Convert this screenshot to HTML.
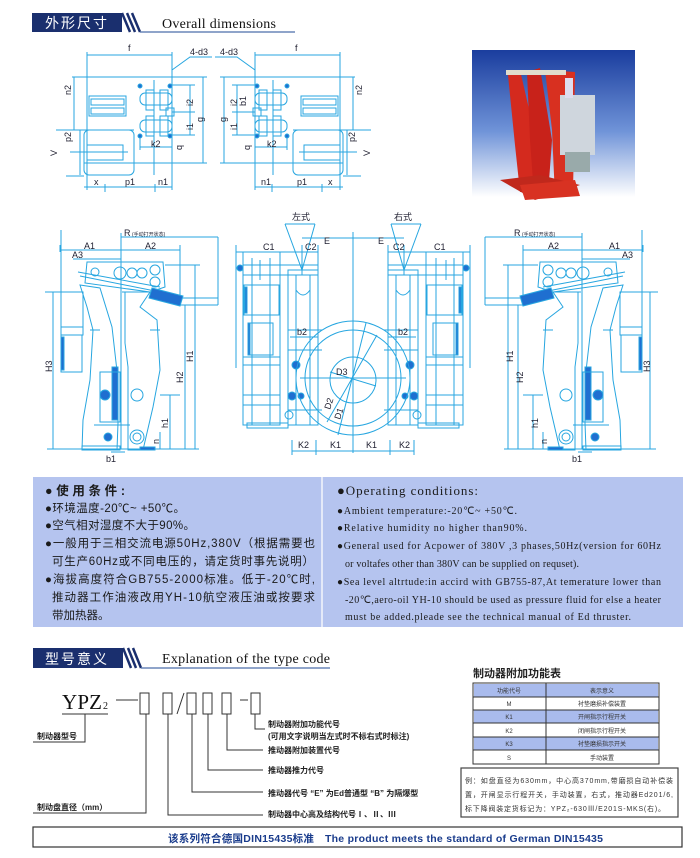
<!DOCTYPE html>
<html><head><meta charset="utf-8"><style>
html,body{margin:0;padding:0;background:#fff;}
svg{display:block}
.c{stroke:#27a6e0;fill:none;stroke-width:1}
.f{fill:#1f6fd0;stroke:#27a6e0}
.l{font-family:"Liberation Sans",sans-serif;font-size:9px;fill:#223}
.cn{font-family:"Liberation Sans","Noto Sans CJK SC",sans-serif}
.se{font-family:"Liberation Serif",serif}
</style></head><body>
<svg width="700" height="858" viewBox="0 0 700 858" xmlns="http://www.w3.org/2000/svg">
<defs>
<linearGradient id="bg" x1="0" y1="0" x2="0" y2="1"><stop offset="0" stop-color="#1a3d9e"/><stop offset="0.55" stop-color="#6f93d8"/><stop offset="1" stop-color="#fff"/></linearGradient>
<g id="plan">
 <path class="c" d="M87 52V190M172 52V190M87 55H172M72 77H207M84 163H207M203 77V163M56 130H134M80 130V175M74 77V130M84 187H172M105 184V192M155 184V192M66 176H84"/>
 <rect class="c" x="89" y="96" width="37" height="20"/><rect class="c" x="91" y="99" width="33" height="6"/><rect class="c" x="91" y="108" width="33" height="6"/>
 <rect class="c" x="84" y="130" width="50" height="45" rx="5"/><rect class="c" x="87" y="145" width="36" height="15"/><path class="c" d="M70 152H128"/>
 <rect class="c" x="140" y="93" width="32" height="12" rx="5"/><rect class="c" x="140" y="120" width="32" height="12" rx="5"/>
 <rect class="c" x="146" y="90" width="8" height="20"/><rect class="c" x="160" y="90" width="8" height="20"/><rect class="c" x="146" y="116" width="8" height="20"/><rect class="c" x="160" y="116" width="8" height="20"/>
 <path class="c" d="M140 147H172M154 80V175M172 85H195M172 112H195M172 135H195M190 85V135M140 137V150M172 70L190 57H212"/>
 <circle class="f" cx="140" cy="86" r="2"/><circle class="f" cx="170" cy="86" r="2"/><circle class="f" cx="140" cy="136" r="2"/><circle class="f" cx="170" cy="136" r="2"/>
 <rect class="c" x="166" y="108" width="8" height="8"/>
</g>
<g id="side">
 <path class="c" d="M47 449H199M121 233V449M61 250H121M121 250H180M121 237H218M73 259H121M218 237V305M180 298H218M180 305H218M53 292V449M45 292H80M195 265V449M165 265H200M185 305V449M170 395V449M160 395H180M160 432V449M61 230V300M180 245V300M60 245V252M111 452H125"/>
 <polygon class="c" points="80,285 100,288 112,327 118,380 118,423 117,450 82,450 83,420 90,380 93,330 87,307"/>
 <polygon class="c" points="122,292 150,292 140,307 157,320 160,370 153,407 143,450 128,450 128,367 125,343 125,292"/>
 <polygon class="c" points="87,262 163,262 165,287 150,292 85,283"/>
 <path class="c" d="M78 272L160 287M80 276L160 292"/>
 <circle class="c" cx="95" cy="272" r="4"/><circle class="c" cx="120" cy="273" r="6"/><circle class="c" cx="132" cy="273" r="5"/><circle class="c" cx="142" cy="273" r="5"/><circle class="c" cx="155" cy="270" r="5"/><circle class="c" cx="155" cy="282" r="5"/>
 <polygon class="f" points="152,288 183,296 180,306 149,298"/>
 <rect class="c" x="61" y="292" width="22" height="35"/><rect class="c" x="61" y="327" width="22" height="8"/><rect class="c" x="61" y="335" width="21" height="37"/><rect class="f" x="61" y="337" width="3" height="33"/>
 <rect class="f" x="112" y="367" width="6" height="53"/>
 <rect class="c" x="100" y="372" width="20" height="50"/>
 <circle class="f" cx="105" cy="395" r="5"/><circle class="c" cx="137" cy="395" r="6"/><circle class="f" cx="108" cy="437" r="4"/><circle class="c" cx="137" cy="437" r="7"/><circle class="c" cx="137" cy="437" r="4"/>
 <rect class="c" x="82" y="446" width="38" height="4"/><rect class="f" x="140" y="447" width="15" height="3"/>
 <path class="c" d="M94 425H130M90 330H100M150 330H160"/>
</g>
<g id="cal">
 <path class="c" d="M353 232V453M236 252H302M302 252H318M302 238H353M236 245V318M236 318V368M302 245V275M318 245V275M290 337H318M292 451H353M292 440V455M316 440V455M285 224H315M285 224L302 270L315 224"/>
 <rect class="c" x="243" y="252" width="37" height="173"/><rect class="c" x="244" y="285" width="35" height="30"/><rect class="f" x="245" y="287" width="2" height="26"/>
 <rect class="c" x="248" y="323" width="25" height="32"/><rect class="f" x="248" y="323" width="2" height="32"/>
 <path class="c" d="M252 258V425M270 258V425M243 357H280M243 365H280M243 395H280M243 405H280M260 260V280"/>
 <rect class="c" x="288" y="270" width="30" height="155"/><rect class="c" x="243" y="265" width="75" height="10"/>
 <path class="c" d="M296 275V425M310 275V425M288 330H322M288 350H322M288 410H322M296 290Q303 300 310 290"/>
 <rect class="c" x="247" y="423" width="41" height="5"/>
 <circle class="f" cx="296" cy="365" r="4"/><circle class="f" cx="292" cy="396" r="4"/><circle class="f" cx="301" cy="396" r="3"/><circle class="c" cx="289" cy="415" r="4"/><circle class="f" cx="240" cy="268" r="3"/>
</g>
</defs>

<rect x="32" y="13" width="90" height="19" fill="#1a2f6e"/>
<text x="45" y="28" class="cn" font-size="14" fill="#fff" textLength="62">外形尺寸</text>
<path d="M122 13L130 32M127 13L135 32M132 13L140 32" stroke="#1a2f6e" stroke-width="2.5"/>
<path d="M140 32H295" stroke="#6a86b8" stroke-width="1.5"/>
<text x="162" y="28" class="se" font-size="14" fill="#111" textLength="114">Overall dimensions</text>

<use href="#plan"/>
<g transform="translate(427,0) scale(-1,1)"><use href="#plan"/></g>
<g class="l">
<text x="128" y="51">f</text><text x="295" y="51">f</text>
<text x="190" y="55">4-d3</text><text x="220" y="55">4-d3</text>
<text x="71" y="95" transform="rotate(-90 71 95)">n2</text><text x="362" y="95" transform="rotate(-90 362 95)">n2</text>
<text x="71" y="142" transform="rotate(-90 71 142)">p2</text><text x="355" y="142" transform="rotate(-90 355 142)">p2</text>
<text x="57" y="156" transform="rotate(-90 57 156)">V</text><text x="370" y="156" transform="rotate(-90 370 156)">V</text>
<text x="94" y="185">x</text><text x="125" y="185">p1</text><text x="158" y="185">n1</text>
<text x="328" y="185">x</text><text x="297" y="185">p1</text><text x="261" y="185">n1</text>
<text x="151" y="147">k2</text><text x="267" y="147">k2</text>
<text x="193" y="106" transform="rotate(-90 193 106)">i2</text><text x="193" y="130" transform="rotate(-90 193 130)">i1</text><text x="203" y="122" transform="rotate(-90 203 122)">g</text>
<text x="237" y="106" transform="rotate(-90 237 106)">i2</text><text x="237" y="130" transform="rotate(-90 237 130)">i1</text><text x="226" y="122" transform="rotate(-90 226 122)">g</text><text x="246" y="106" transform="rotate(-90 246 106)">b1</text>
<text x="182" y="150" transform="rotate(-90 182 150)">q</text><text x="250" y="150" transform="rotate(-90 250 150)">q</text>
</g>

<rect x="472" y="50" width="163" height="147" fill="url(#bg)"/>
<polygon points="508,75 520,70 535,135 533,190 520,192 515,145" fill="#d42a1e"/>
<polygon points="527,72 540,68 552,140 548,195 534,195 530,140" fill="#c8221a"/>
<polygon points="545,70 575,72 573,195 555,197 552,130" fill="#d83020"/>
<rect x="506" y="70" width="60" height="5" fill="#e0dccc"/>
<rect x="560" y="95" width="35" height="60" fill="#cfd6dd"/><rect x="565" y="78" width="8" height="20" fill="#dde"/>
<rect x="565" y="152" width="25" height="20" fill="#9aa"/>
<polygon points="500,180 540,175 580,185 535,200" fill="#c0281c"/>
<polygon points="520,185 575,180 580,196 525,200" fill="#d83222"/>

<use href="#side"/>
<g transform="translate(703,0) scale(-1,1)"><use href="#side"/></g>
<use href="#cal"/>
<g transform="translate(706,0) scale(-1,1)"><use href="#cal"/></g>
<circle class="c" cx="353" cy="378" r="57"/><circle class="c" cx="353" cy="378" r="48"/><circle class="c" cx="353" cy="380" r="23"/>
<path class="c" d="M366 323L338 435M377 335L327 422M330 372L376 386M300 378H406"/>
<g class="l">
<text x="84" y="249">A1</text><text x="145" y="249">A2</text><text x="72" y="258">A3</text><text x="124" y="236">R</text><text x="132" y="236" class="cn" font-size="5">(手动打开状态)</text>
<text x="609" y="249">A1</text><text x="548" y="249">A2</text><text x="622" y="258">A3</text><text x="514" y="236">R</text><text x="522" y="236" class="cn" font-size="5">(手动打开状态)</text>
<text x="52" y="372" transform="rotate(-90 52 372)">H3</text><text x="193" y="362" transform="rotate(-90 193 362)">H1</text><text x="183" y="383" transform="rotate(-90 183 383)">H2</text><text x="168" y="428" transform="rotate(-90 168 428)">h1</text><text x="159" y="444" transform="rotate(-90 159 444)">n</text>
<text x="650" y="372" transform="rotate(-90 650 372)">H3</text><text x="513" y="362" transform="rotate(-90 513 362)">H1</text><text x="523" y="383" transform="rotate(-90 523 383)">H2</text><text x="538" y="428" transform="rotate(-90 538 428)">h1</text><text x="547" y="444" transform="rotate(-90 547 444)">n</text>
<text x="106" y="462">b1</text><text x="572" y="462">b1</text>
<text x="292" y="220" class="cn">左式</text><text x="394" y="220" class="cn">右式</text>
<text x="324" y="244">E</text><text x="378" y="244">E</text>
<text x="263" y="250">C1</text><text x="305" y="250">C2</text><text x="393" y="250">C2</text><text x="434" y="250">C1</text>
<text x="297" y="335">b2</text><text x="398" y="335">b2</text>
<text x="298" y="448">K2</text><text x="330" y="448">K1</text><text x="366" y="448">K1</text><text x="399" y="448">K2</text>
<text x="336" y="375">D3</text>
<text x="330" y="410" transform="rotate(-72 330 410)">D2</text><text x="340" y="420" transform="rotate(-72 340 420)">D1</text>
</g>

<rect x="33" y="477" width="650" height="150" fill="#b5c4ef"/>
<rect x="321" y="477" width="2" height="150" fill="#e4e9f8"/>
<g class="cn" fill="#1a1a1a">
<text x="45" y="495" font-size="12.5" font-weight="bold" textLength="80">●使用条件:</text>
<text x="45" y="512" font-size="11.5" textLength="140">●环境温度-20℃~ +50℃。</text>
<text x="45" y="529" font-size="11.5" textLength="150">●空气相对湿度不大于90%。</text>
<text x="45" y="547" font-size="11.5" textLength="270">●一般用于三相交流电源50Hz,380V（根据需要也</text>
<text x="52" y="565" font-size="11.5" textLength="262">可生产60Hz或不同电压的，请定货时事先说明）</text>
<text x="45" y="583" font-size="11.5" textLength="270">●海拔高度符合GB755-2000标准。低于-20℃时,</text>
<text x="52" y="601" font-size="11.5" textLength="263">推动器工作油液改用YH-10航空液压油或按要求</text>
<text x="52" y="619" font-size="11.5">带加热器。</text>
</g>
<g class="se" fill="#1a1a1a">
<text x="337" y="495" font-size="13" textLength="141">●Operating conditions:</text>
<text x="337" y="514" font-size="10" textLength="180">●Ambient temperature:-20℃~ +50℃.</text>
<text x="337" y="531" font-size="10" textLength="190">●Relative humidity no higher than90%.</text>
<text x="337" y="549" font-size="10" textLength="324">●General used for Acpower of 380V ,3 phases,50Hz(version for 60Hz</text>
<text x="345" y="567" font-size="10" textLength="234">or voltafes other than 380V can be supplied on requset).</text>
<text x="337" y="585" font-size="10" textLength="324">●Sea level altrtude:in accird with GB755-87,At temerature lower than</text>
<text x="345" y="603" font-size="10" textLength="316">-20℃,aero-oil YH-10 should be used as pressure fluid for else a heater</text>
<text x="345" y="620" font-size="10" textLength="286">must be added.pleade see the technical manual of Ed thruster.</text>
</g>

<rect x="33" y="648" width="90" height="20" fill="#1a2f6e"/>
<text x="45" y="664" class="cn" font-size="14" fill="#fff" textLength="62">型号意义</text>
<path d="M123 648L131 668M128 648L136 668M133 648L141 668" stroke="#1a2f6e" stroke-width="2.5"/>
<path d="M141 668H330" stroke="#6a86b8" stroke-width="1.5"/>
<text x="162" y="663" class="se" font-size="14" fill="#111" textLength="168">Explanation of the type code</text>

<text x="62" y="709" class="se" font-size="21" fill="#111" textLength="40">YPZ</text><text x="103" y="709" class="se" font-size="10" fill="#111">2</text>
<g stroke="#333" fill="none" stroke-width="1">
<path d="M116 700H138M240 700H248M184 693L177 714"/>
<rect x="140" y="693" width="9" height="21"/><rect x="163" y="693" width="9" height="21"/><rect x="187" y="693" width="9" height="21"/><rect x="203" y="693" width="9" height="21"/><rect x="222" y="693" width="9" height="21"/><rect x="251" y="693" width="9" height="21"/>
<path d="M62 714H108M85 714V742H33M255 714V729H265M227 714V750H263M208 714V770H263M192 714V792H263M146 714V813H33M168 714V815H263"/>
</g>
<g class="cn" font-size="8" fill="#222" font-weight="bold">
<text x="37" y="739">制动器型号</text>
<text x="37" y="810">制动盘直径（mm）</text>
<text x="268" y="727">制动器附加功能代号</text>
<text x="268" y="739">(可用文字说明当左式时不标右式时标注)</text>
<text x="268" y="753">推动器附加装置代号</text>
<text x="268" y="773">推动器推力代号</text>
<text x="268" y="796">推动器代号 “E” 为Ed普通型 “B” 为隔爆型</text>
<text x="268" y="817">制动器中心高及结构代号Ⅰ、Ⅱ、Ⅲ</text>
</g>

<text x="473" y="677" class="cn" font-size="11" font-weight="bold" fill="#222">制动器附加功能表</text>
<g font-size="6" class="cn" fill="#333" text-anchor="middle">
<rect x="473" y="683" width="186" height="81" fill="#fff" stroke="#333"/>
<rect x="474" y="684" width="184" height="13" fill="#a9bbed"/>
<rect x="474" y="710" width="184" height="13" fill="#a9bbed"/>
<rect x="474" y="737" width="184" height="13" fill="#a9bbed"/>
<path d="M473 697H659M473 710H659M473 723H659M473 737H659M473 750H659M546 683V764" stroke="#333"/>
<text x="509" y="693">功能代号</text><text x="602" y="693">表示意义</text>
<text x="509" y="706">M</text><text x="602" y="706">衬垫磨损补偿装置</text>
<text x="509" y="719">K1</text><text x="602" y="719">开闸指示行程开关</text>
<text x="509" y="733">K2</text><text x="602" y="733">闭闸指示行程开关</text>
<text x="509" y="746">K3</text><text x="602" y="746">衬垫磨损指示开关</text>
<text x="509" y="760">S</text><text x="602" y="760">手动装置</text>
</g>
<rect x="461" y="768" width="217" height="49" fill="#fff" stroke="#444" stroke-width="1.2"/>
<g class="cn" font-size="7" fill="#333">
<text x="465" y="783" textLength="208">例：如盘直径为630mm，中心高370mm,带磨损自动补偿装</text>
<text x="465" y="797" textLength="208">置，开闸显示行程开关，手动装置，右式，推动器Ed201/6,</text>
<text x="465" y="811" textLength="200">标下降阀装定货标记为：YPZ₂-630Ⅲ/E201S-MKS(右)。</text>
</g>

<rect x="33" y="827" width="649" height="20" fill="#fff" stroke="#333" stroke-width="1.2"/>
<text x="168" y="842" class="cn" font-size="10.5" font-weight="bold" fill="#1a3c8c" textLength="435">该系列符合德国DIN15435标准　The product meets the standard of German DIN15435</text>
</svg>
</body></html>
